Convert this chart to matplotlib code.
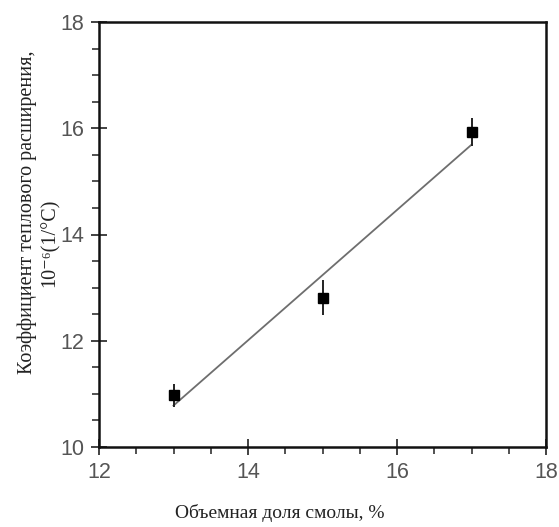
import matplotlib
matplotlib.use("Agg")
import matplotlib.pyplot as plt
from matplotlib.ticker import MultipleLocator

x_vals = [13, 15, 17]
y_vals = [10.97, 12.81, 15.93]
y_err = [0.21, 0.33, 0.26]
fit_x = [13, 17]
fit_y = [10.78, 15.69]
xticks = [12, 14, 16, 18]
yticks = [10, 12, 14, 16, 18]

fig = plt.figure(figsize=(5.59, 5.27), dpi=100)
ax = fig.add_axes([99/559, 1-447/527, (546-99)/559, (447-22)/527])

ax.plot(fit_x, fit_y, color="#6e6e6e", lw=1.3, zorder=2)
ax.errorbar(x_vals, y_vals, yerr=y_err, fmt="s", color="black", ms=6.5,
            ecolor="#222222", elinewidth=1.4, capsize=0, zorder=3)

ax.set_xlim(12, 18)
ax.set_ylim(10, 18)
ax.set_xticks(xticks)
ax.set_yticks(yticks)
ax.xaxis.set_minor_locator(MultipleLocator(0.5))
ax.yaxis.set_minor_locator(MultipleLocator(0.5))

for s in ax.spines.values():
    s.set_linewidth(1.8)
    s.set_color("#111111")

ax.tick_params(which="major", direction="inout", length=11, width=1.3,
               labelsize=15.5, labelcolor="#555555", color="#333333", pad=5)
ax.tick_params(which="minor", direction="out", length=5, width=1.2, color="#333333")
for lab in ax.get_xticklabels() + ax.get_yticklabels():
    lab.set_family(["Liberation Sans", "DejaVu Sans"])

serif = ["Liberation Serif", "DejaVu Serif"]
fig.text(280/559, 1-513/527, "Объемная доля смолы, %", ha="center", va="center",
         fontsize=14, family=serif, color="#222222")
fig.text(27/559, 1-212/527, "Коэффициент теплового расширения,", ha="center",
         va="center", rotation=90, fontsize=14.5, family=serif, color="#222222")
fig.text(50/559, 1-243/527, "10⁻⁶(1/°C)", ha="center",
         va="center", rotation=90, fontsize=14.5, family=serif, color="#222222")

fig.savefig("out.png", dpi=100)
